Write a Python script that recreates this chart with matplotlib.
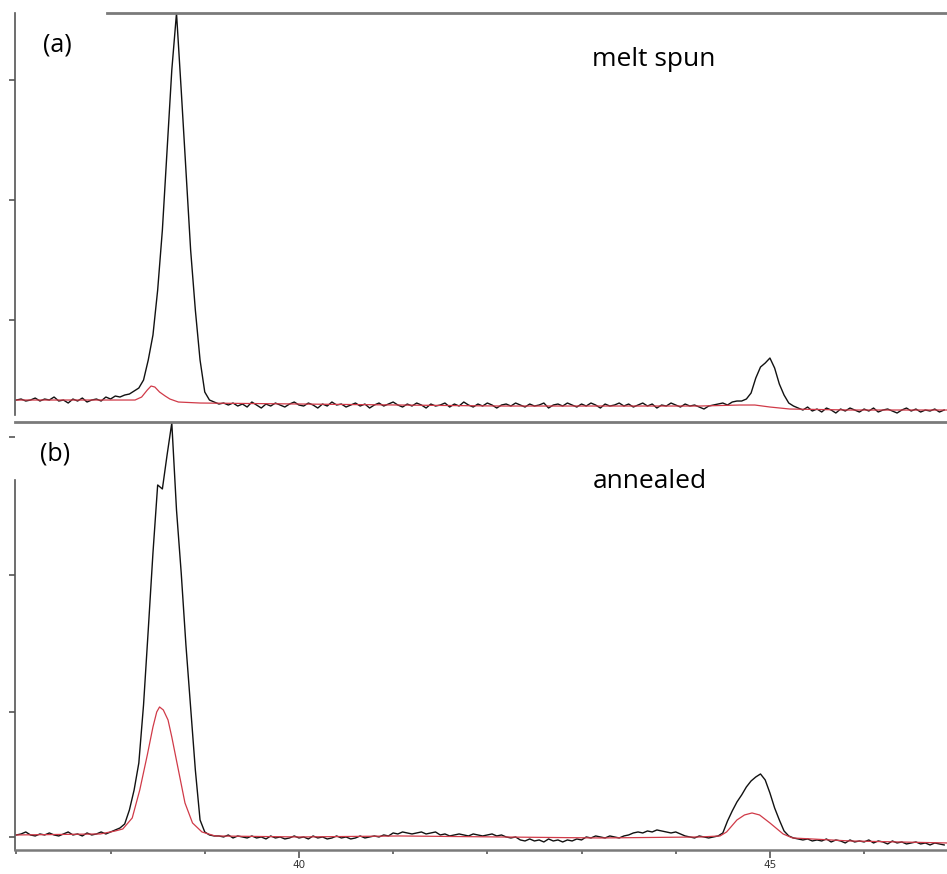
import matplotlib
matplotlib.use("Agg")
import matplotlib.pyplot as plt
import numpy as np
from matplotlib.ticker import FixedLocator, NullFormatter

# 2-theta scan grid (deg), step 0.05
two_theta = np.round(np.arange(37.0, 46.851, 0.05), 2)

# (a) melt spun - measured (black)
melt_spun = [
    400, 410, 390, 400, 420, 390, 410, 400, 430, 390,
    400, 370, 410, 390, 420, 380, 400, 410, 390, 430,
    410, 440, 430, 450, 460, 490, 520, 600, 800, 1050,
    1500, 2100, 2900, 3700, 4270, 3500, 2700, 1900, 1300, 800,
    480, 400, 380, 360, 370, 350, 370, 340, 360, 330,
    380, 350, 320, 360, 340, 370, 350, 330, 360, 380,
    350, 340, 370, 350, 320, 360, 340, 380, 350, 360,
    330, 350, 370, 340, 360, 320, 350, 370, 340, 360,
    380, 350, 330, 360, 340, 370, 350, 320, 360, 340,
    350, 370, 330, 360, 340, 380, 350, 330, 360, 340,
    370, 350, 320, 350, 360, 340, 370, 350, 330, 360,
    340, 350, 370, 320, 350, 360, 340, 370, 350, 330,
    360, 340, 370, 350, 320, 360, 340, 350, 370, 340,
    360, 330, 350, 370, 340, 360, 320, 350, 340, 370,
    350, 330, 360, 340, 350, 330, 310, 340, 350, 360,
    370, 350, 380, 390, 390, 410, 470, 620, 730, 770,
    820, 720, 560, 450, 370, 340, 320, 300, 330, 290,
    310, 280, 320, 300, 270, 310, 290, 320, 300, 280,
    310, 290, 320, 280, 300, 310, 290, 270, 300, 320,
    290, 310, 280, 300, 290, 310, 280, 300,
]

# (a) fitted / reference curve (red)
fit_a_x = [37.00, 37.89, 38.26, 38.33, 38.39, 38.43, 38.47, 38.52, 38.58, 38.63,
           38.72, 38.95, 40.01, 41.07, 42.13, 43.20, 44.26, 44.68, 44.84, 45.00,
           45.21, 45.85, 46.88]
fit_a_y = [400, 400, 400, 430, 500, 540, 530, 480, 440, 410,
           380, 370, 360, 350, 340, 340, 340, 350, 350, 330,
           310, 300, 300]

# (b) annealed - measured (black)
annealed = [
    150, 160, 180, 150, 140, 160, 150, 170, 150, 140,
    160, 180, 150, 160, 140, 170, 150, 160, 180, 160,
    180, 200, 220, 260, 400, 600, 870, 1450, 2200, 2970,
    3650, 3610, 3950, 4270, 3400, 2770, 2050, 1420, 800, 300,
    180, 150, 140, 140, 130, 150, 120, 140, 130, 120,
    140, 120, 130, 110, 140, 120, 130, 110, 120, 140,
    120, 130, 110, 140, 120, 130, 110, 120, 140, 120,
    130, 110, 120, 140, 120, 130, 140, 130, 150, 140,
    170, 160, 180, 170, 160, 170, 180, 160, 170, 180,
    150, 160, 140, 150, 160, 150, 140, 160, 150, 140,
    150, 160, 140, 150, 130, 120, 130, 100, 90, 110,
    90, 100, 80, 110, 90, 100, 80, 100, 90, 110,
    100, 130, 120, 140, 130, 120, 140, 130, 120, 140,
    150, 170, 180, 170, 190, 180, 200, 190, 180, 170,
    180, 160, 140, 130, 120, 140, 130, 120, 130, 140,
    170, 290, 390, 480, 550, 630, 690, 730, 760, 700,
    570, 420, 300, 190, 140, 120, 110, 100, 110, 90,
    100, 90, 110, 80, 100, 90, 70, 100, 80, 90,
    80, 100, 70, 90, 80, 60, 90, 70, 80, 60,
    70, 80, 60, 70, 50, 70, 60, 50,
]

# (b) fitted / reference curve (red)
fit_b_x = [37.00, 37.89, 38.05, 38.13, 38.23, 38.31, 38.39, 38.45, 38.49, 38.52,
           38.56, 38.61, 38.65, 38.72, 38.79, 38.87, 38.97, 39.11, 40.01, 41.07,
           42.13, 43.20, 44.26, 44.47, 44.54, 44.65, 44.73, 44.81, 44.89, 45.00,
           45.14, 45.24, 45.85, 46.88]
fit_b_y = [150, 160, 190, 210, 320, 600, 950, 1230, 1380, 1430,
           1400, 1300, 1130, 800, 470, 270, 180, 140, 130, 140,
           130, 120, 130, 140, 180, 300, 350, 370, 350, 270,
           160, 120, 90, 70]

labels = ["(a)", "(b)"]
titles = ["melt spun", "annealed"]

black = "#111111"
red = "#d03a48"
spine_grey = "#7a7a7a"
tick_grey = "#555555"
xlim = (36.985, 46.88)

fig = plt.figure(figsize=(9.47, 8.74), dpi=100)
ax_a = fig.add_axes([0.0158, 0.516, 0.9842, 0.469])
ax_b = fig.add_axes([0.0158, 0.0275, 0.9842, 0.4897])

ax_a.plot(two_theta, melt_spun, color=black, lw=1.0)
ax_a.plot(fit_a_x, fit_a_y, color=red, lw=0.9)
ax_b.plot(two_theta, annealed, color=black, lw=1.0)
ax_b.plot(fit_b_x, fit_b_y, color=red, lw=0.9)

for ax in (ax_a, ax_b):
    ax.set_xlim(*xlim)
    ax.spines["right"].set_visible(False)
    ax.spines["left"].set_color(tick_grey)
    ax.spines["left"].set_linewidth(1.2)
    ax.spines["top"].set_color(spine_grey)
    ax.spines["top"].set_linewidth(2.0)
    ax.tick_params(axis="y", direction="out", length=4, width=1.2,
                   color=tick_grey, labelleft=False)

# top panel
ax_a.set_ylim(170, 4270)
ax_a.spines["bottom"].set_visible(False)
ax_a.spines["top"].set_bounds(37.96, xlim[1])
ax_a.spines["left"].set_bounds(250, 4270)
ax_a.set_yticks([1200, 2400, 3600])
ax_a.set_xticks([])

# bottom panel
ax_b.set_ylim(0, 4280)
ax_b.spines["left"].set_bounds(0, 3700)
ax_b.spines["bottom"].set_color(spine_grey)
ax_b.spines["bottom"].set_linewidth(1.8)
ax_b.set_yticks([130, 1380, 2750, 4130])
ax_b.xaxis.set_major_locator(FixedLocator([40, 45]))
ax_b.xaxis.set_minor_locator(FixedLocator([37, 38, 39, 41, 42, 43, 44, 46]))
ax_b.xaxis.set_minor_formatter(NullFormatter())
ax_b.tick_params(axis="x", which="major", direction="out", length=6, width=1.2,
                 color=tick_grey, labelsize=7.5, labelcolor="#333333", pad=1.5)
ax_b.tick_params(axis="x", which="minor", direction="out", length=3, width=1.2,
                 color=tick_grey)

fig.text(0.0454, 0.9485, labels[0], fontsize=18, family="Open Sans",
         ha="left", va="center")
fig.text(0.0422, 0.4805, labels[1], fontsize=18, family="Open Sans",
         ha="left", va="center")
fig.text(0.625, 0.9245, titles[0], fontsize=19, family="Open Sans",
         ha="left", va="baseline")
fig.text(0.626, 0.4416, titles[1], fontsize=19, family="Open Sans",
         ha="left", va="baseline")

fig.savefig("out.png", dpi=100)
